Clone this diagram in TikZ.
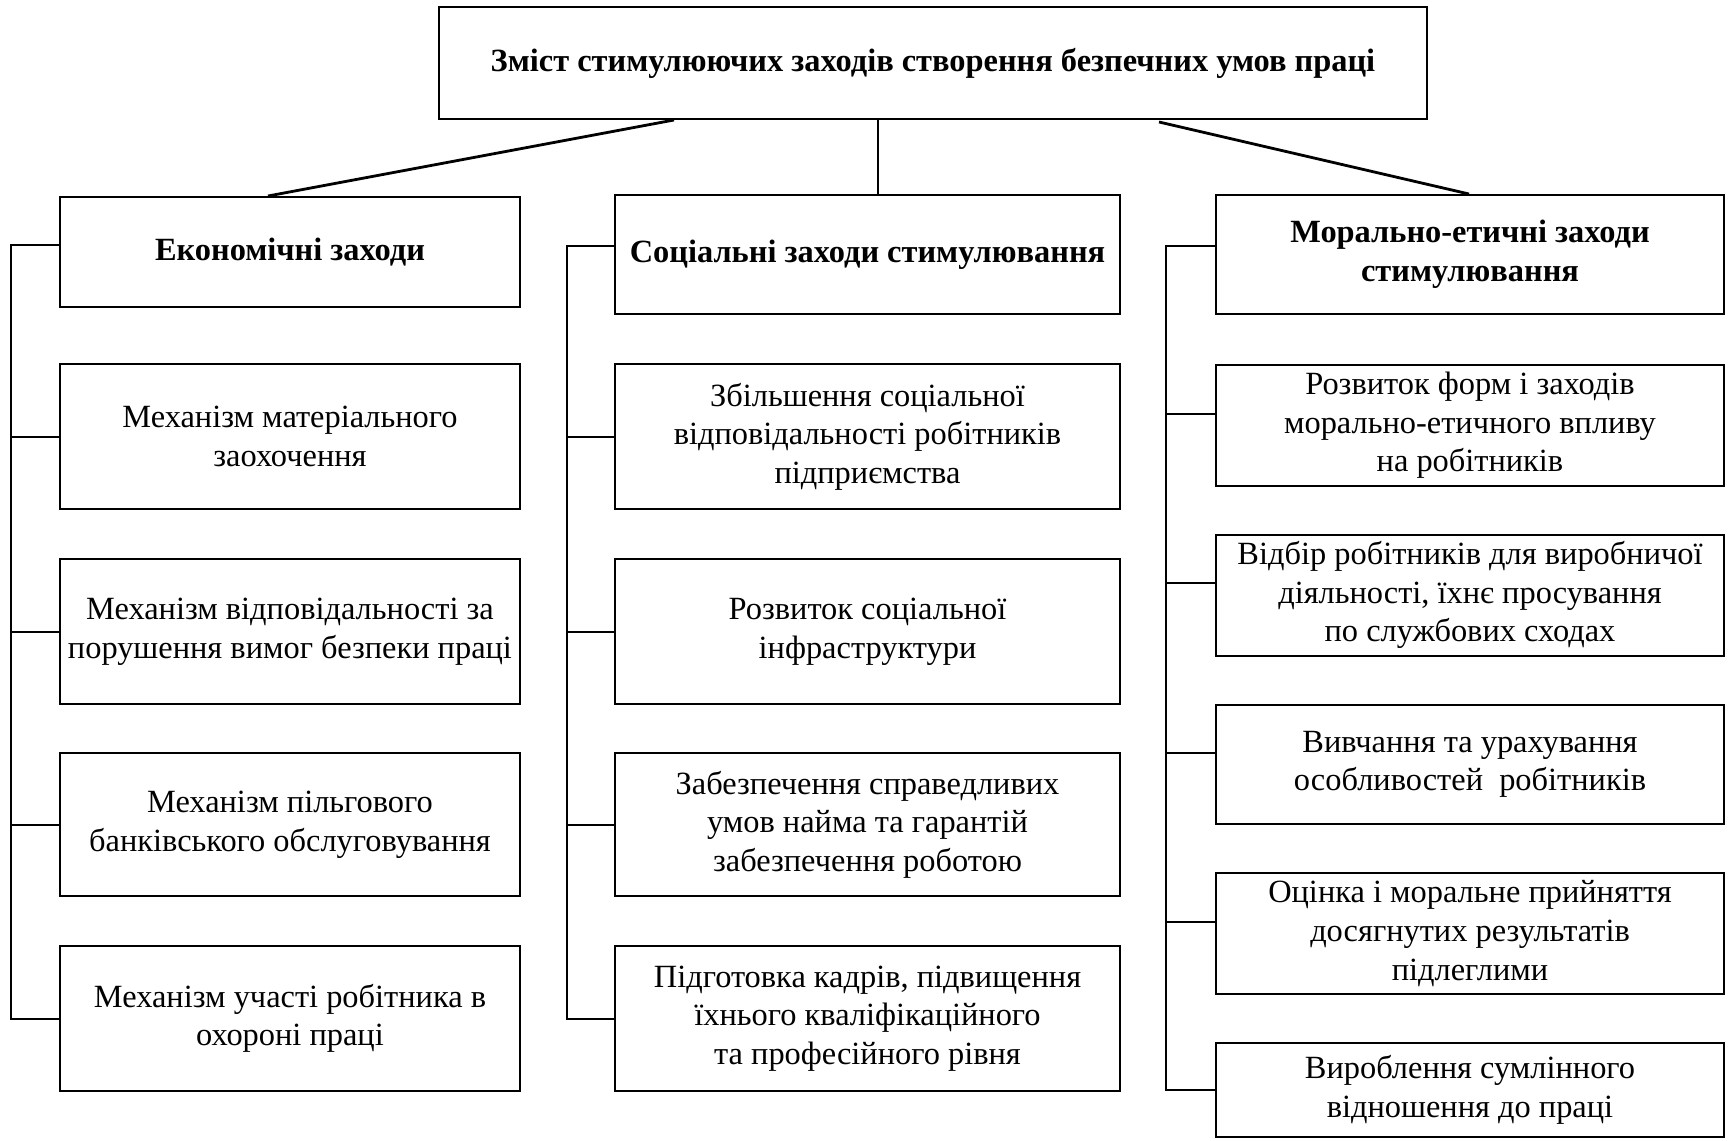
\documentclass[tikz,border=0pt]{standalone}
\usepackage{fontspec}
\setmainfont{Liberation Serif}
\usetikzlibrary{calc}
\begin{document}
\begin{tikzpicture}[x=0.5pt,y=-0.5pt,
  bx/.style 2 args={draw, line width=1pt, inner sep=0pt, align=center,
    minimum width=#1*0.5pt, minimum height=#2*0.5pt,
    font=\fontsize{16.2}{19.3}\selectfont},
  hd/.style={font=\fontsize{16.2}{19.3}\selectfont\bfseries},
  bus/.style={line width=1pt},
  spoke/.style={line width=1.4pt}]
\useasboundingbox (0,0) rectangle (1728,1140);

% top
\node[bx={988}{112}, hd] (top) at (933,63) {Зміст стимулюючих заходів створення безпечних умов праці};

% headers
\node[bx={460}{110}, hd] (e0) at (290,252) {Економічні заходи};
\node[bx={505}{119}, hd] (s0) at (867.5,254.5) {Соціальні заходи стимулювання};
\node[bx={508}{119}, hd] (m0) at (1470,254.5) {Морально-етичні заходи\\стимулювання};

% economic
\node[bx={460}{145}] (e1) at (290,436.5) {Механізм матеріального\\заохочення};
\node[bx={460}{145}] (e2) at (290,631.5) {Механізм відповідальності за\\порушення вимог безпеки праці};
\node[bx={460}{143}] (e3) at (290,824.5) {Механізм пільгового\\банківського обслуговування};
\node[bx={460}{145}] (e4) at (290,1018.5) {Механізм участі робітника в\\охороні праці};

% social
\node[bx={505}{145}] (s1) at (867.5,436.5) {Збільшення соціальної\\відповідальності робітників\\підприємства};
\node[bx={505}{145}] (s2) at (867.5,631.5) {Розвиток соціальної\\інфраструктури};
\node[bx={505}{143}] (s3) at (867.5,824.5) {Забезпечення справедливих\\умов найма та гарантій\\забезпечення роботою};
\node[bx={505}{145}] (s4) at (867.5,1018.5) {Підготовка кадрів, підвищення\\їхнього кваліфікаційного\\та професійного рівня};

% moral
\node[bx={508}{121}] (m1) at (1470,425.5) {Розвиток форм і заходів\\морально-етичного впливу\\на робітників};
\node[bx={508}{121}] (m2) at (1470,595) {Відбір робітників для виробничої\\діяльності, їхнє просування\\по службових сходах};
\node[bx={508}{119}] (m3) at (1470,764.5) {Вивчання та урахування\\особливостей\ \ робітників};
\node[bx={508}{121}] (m4) at (1470,933.5) {Оцінка і моральне прийняття\\досягнутих результатів\\підлеглими};
\node[bx={508}{94}] (m5) at (1470,1090) {Вироблення сумлінного\\відношення до праці};

% top connectors
\draw[spoke] ($(top.south)+(-259,0)$) -- ($(e0.north)+(-22,0)$);
\draw[bus] ($(top.south)+(-55,0)$) -- ($(s0.north)+(10.5,0)$);
\draw[spoke] ($(top.south)+(226,2)$) -- ($(m0.north)+(-1,0)$);

% buses
\coordinate (eb) at (11,0);
\coordinate (sb) at (567,0);
\coordinate (mb) at (1166,0);

\draw[bus] ($(e0.west)+(0,-7)$) -- ($(e0.west -| eb)+(0,-7)$) |- (e4.west);
\foreach \n in {e1,e2,e3} \draw[bus] (\n.west) -- (\n.west -| eb);

\draw[bus] ($(s0.west)+(0,-9)$) -- ($(s0.west -| sb)+(0,-9)$) |- (s4.west);
\foreach \n in {s1,s2,s3} \draw[bus] (\n.west) -- (\n.west -| sb);

\draw[bus] ($(m0.west)+(0,-9)$) -- ($(m0.west -| mb)+(0,-9)$) |- (m5.west);
\foreach \n in {m1,m2,m3,m4} \draw[bus] ($(\n.west)+(0,-12)$) -- ($(\n.west -| mb)+(0,-12)$);
\end{tikzpicture}
\end{document}
